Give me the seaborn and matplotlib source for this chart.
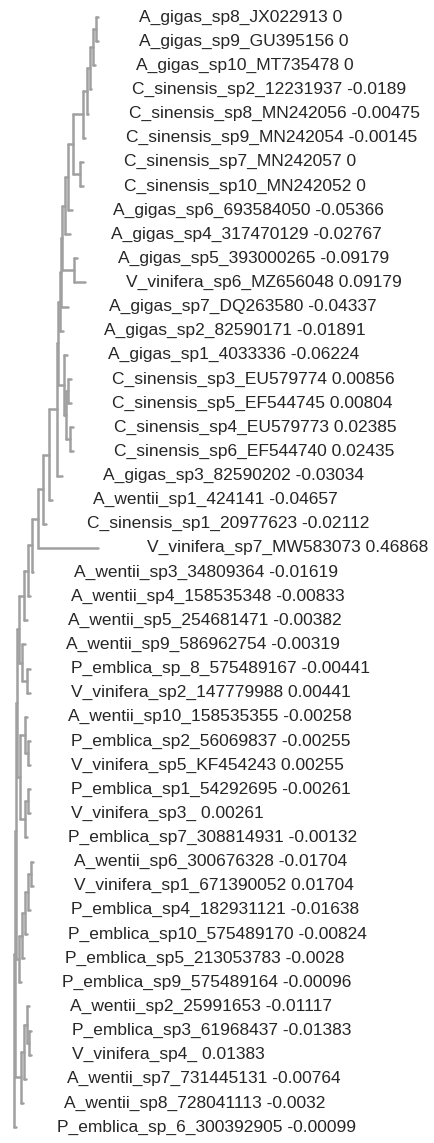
import pandas as pd
import numpy as np
import matplotlib.pyplot as plt
import seaborn as sns

sns.set_theme(style="white")
plt.rcParams['font.family'] = ['Liberation Sans', 'DejaVu Sans']

# leaf labels (top to bottom) and the number printed after each one
leaf_names = [
    "A_gigas_sp8_JX022913", "A_gigas_sp9_GU395156", "A_gigas_sp10_MT735478",
    "C_sinensis_sp2_12231937", "C_sinensis_sp8_MN242056", "C_sinensis_sp9_MN242054",
    "C_sinensis_sp7_MN242057", "C_sinensis_sp10_MN242052", "A_gigas_sp6_693584050",
    "A_gigas_sp4_317470129", "A_gigas_sp5_393000265", "V_vinifera_sp6_MZ656048",
    "A_gigas_sp7_DQ263580", "A_gigas_sp2_82590171", "A_gigas_sp1_4033336",
    "C_sinensis_sp3_EU579774", "C_sinensis_sp5_EF544745", "C_sinensis_sp4_EU579773",
    "C_sinensis_sp6_EF544740", "A_gigas_sp3_82590202", "A_wentii_sp1_424141",
    "C_sinensis_sp1_20977623", "V_vinifera_sp7_MW583073", "A_wentii_sp3_34809364",
    "A_wentii_sp4_158535348", "A_wentii_sp5_254681471", "A_wentii_sp9_586962754",
    "P_emblica_sp_8_575489167", "V_vinifera_sp2_147779988", "A_wentii_sp10_158535355",
    "P_emblica_sp2_56069837", "V_vinifera_sp5_KF454243", "P_emblica_sp1_54292695",
    "V_vinifera_sp3_", "P_emblica_sp7_308814931", "A_wentii_sp6_300676328",
    "V_vinifera_sp1_671390052", "P_emblica_sp4_182931121", "P_emblica_sp10_575489170",
    "P_emblica_sp5_213053783", "P_emblica_sp9_575489164", "A_wentii_sp2_25991653",
    "P_emblica_sp3_61968437", "V_vinifera_sp4_", "A_wentii_sp7_731445131",
    "A_wentii_sp8_728041113", "P_emblica_sp_6_300392905",
]
leaf_values = [
    "0", "0", "0", "-0.0189", "-0.00475", "-0.00145", "0", "0", "-0.05366",
    "-0.02767", "-0.09179", "0.09179", "-0.04337", "-0.01891", "-0.06224",
    "0.00856", "0.00804", "0.02385", "0.02435", "-0.03034", "-0.04657",
    "-0.02112", "0.46868", "-0.01619", "-0.00833", "-0.00382", "-0.00319",
    "-0.00441", "0.00441", "-0.00258", "-0.00255", "0.00255", "-0.00261",
    "0.00261", "-0.00132", "-0.01704", "0.01704", "-0.01638", "-0.00824",
    "-0.0028", "-0.00096", "-0.01117", "-0.01383", "0.01383", "-0.00764",
    "-0.0032", "-0.00099",
]
# depth of each tip (distance from the root)
tip_depth = [
    98, 98, 95, 91, 88, 85, 83, 83, 72, 70, 77, 85, 68, 63, 67,
    71, 71, 73, 73, 62, 52, 46, 98, 33, 30, 27, 25, 30, 30, 27,
    30, 30, 30, 30, 27, 33, 33, 30, 27, 24, 21, 29, 31, 31, 26,
    23, 16,
]
# internal nodes: (child a, child b, depth); ids >= 47 are earlier nodes
merge_a = [0, 47, 48, 49, 50, 6, 51, 53, 54, 10, 55, 57, 58, 15, 17, 60, 14, 59,
           64, 65, 66, 67, 68, 69, 70, 27, 26, 71,
           30, 29, 32, 77, 76, 35, 80, 81, 82, 83, 42, 41, 86, 87, 74, 89, 90, 91]
merge_b = [1, 2, 3, 4, 5, 7, 52, 8, 9, 11, 56, 12, 13, 16, 18, 61, 62, 63,
           19, 20, 21, 22, 23, 24, 25, 28, 72, 73,
           31, 75, 33, 34, 78, 36, 37, 38, 39, 40, 43, 85, 44, 45, 79, 84, 88, 46]
merge_depth = [96, 93, 90, 87, 83, 80, 73, 68, 65, 74, 62, 61, 60, 68, 70, 66, 64, 58,
               57, 49, 43, 38, 32, 28, 24, 27, 22, 19,
               28, 25, 28, 25, 20, 31, 28, 25, 22, 19, 29, 27, 24, 21, 17, 16, 15, 14]

n_leaf = len(leaf_names)
node_x = list(tip_depth)
node_y = list(range(n_leaf))
for a, b, d in zip(merge_a, merge_b, merge_depth):
    node_x.append(d)
    node_y.append((node_y[a] + node_y[b]) / 2)

rows = []
seg = 0
for a, b, d in zip(merge_a, merge_b, merge_depth):
    rows += [(seg, d, node_y[a]), (seg, d, node_y[b])]
    seg += 1
    for c in (a, b):
        rows += [(seg, d, node_y[c]), (seg, node_x[c], node_y[c])]
        seg += 1
segs = pd.DataFrame(rows, columns=["seg", "x", "y"])

fig = plt.figure(figsize=(4.35, 11.43), dpi=100)
ax = fig.add_axes([0, 0, 1, 1])
sns.lineplot(data=segs, x="x", y="y", units="seg", estimator=None, sort=False,
             color="#a0a0a0", linewidth=1.8, legend=False, ax=ax)

label_shift = {"V_vinifera_sp7_MW583073": 8}
for i, (name, val) in enumerate(zip(leaf_names, leaf_values)):
    ax.text(tip_depth[i] + 41 + label_shift.get(name, 0), i, f"{name} {val}",
            fontsize=12.5, va="center", ha="left", color="#262626")

ax.set_xlim(0, 435)
ax.set_ylim(46.66, -0.705)
ax.axis("off")
fig.savefig("out.png", dpi=100)
